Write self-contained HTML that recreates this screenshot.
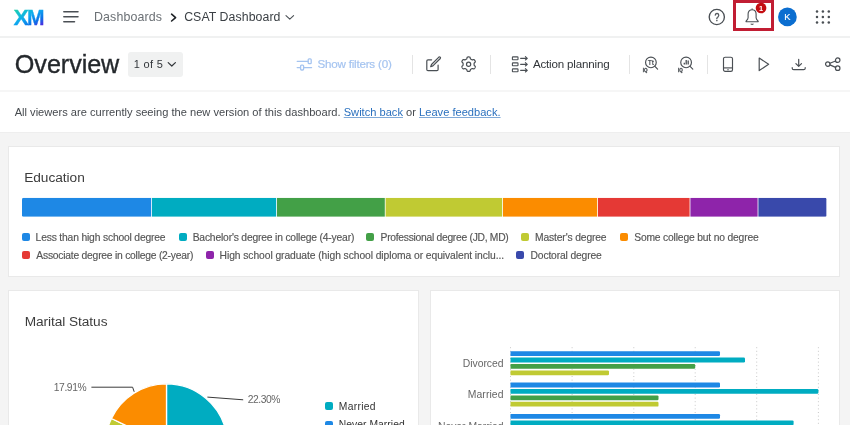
<!DOCTYPE html>
<html lang="en">
<head>
<meta charset="utf-8">
<title>CSAT Dashboard</title>
<style>
*{box-sizing:border-box;margin:0;padding:0}
html,body{width:850px;height:425px;overflow:hidden;background:#f4f4f4}
body{font-family:"Liberation Sans",sans-serif;color:#32363a;position:relative}
.abs{position:absolute}
.t{position:absolute;white-space:nowrap;line-height:1}
header{position:absolute;left:0;top:0;width:850px;height:36px;background:#fff}
.hline{position:absolute;left:0;width:850px;height:2px;background:#ececec}
.toolbar{position:absolute;left:0;top:38px;width:850px;height:52px;background:#fff}
.notice{position:absolute;left:0;top:92px;width:850px;height:40px;background:#fff}
.card{position:absolute;background:#fff;border:1px solid #e9e9e9}
.sep{position:absolute;width:1px;background:#e4e4e4}
svg{position:absolute;overflow:visible}
.os{font-family:"Liberation Sans",sans-serif}
a{color:#2a70be;text-decoration:underline;text-decoration-color:rgba(42,112,190,.6);text-underline-offset:0.7px;text-decoration-thickness:0.9px}
.lg{position:absolute;width:8px;height:8px;border-radius:2px}
.lt{font-size:10.3px;color:#555;-webkit-text-stroke:0.15px #555}
.bl{font-size:10.4px;color:#666}
.pagebtn{position:absolute;left:128px;top:51.5px;width:55px;height:25.5px;background:#f0f1f1;border-radius:3px}
</style>
</head>
<body>

<!-- ======= top header ======= -->
<header>
  <svg id="logo" style="left:0;top:0" width="60" height="36" viewBox="0 0 60 36">
    <defs>
      <linearGradient id="xmg" gradientUnits="userSpaceOnUse" x1="14" y1="9" x2="27.65" y2="33.5">
        <stop offset="0" stop-color="#22d3a5"/>
        <stop offset="0.26" stop-color="#12bfd4"/>
        <stop offset="0.5" stop-color="#0ea6f0"/>
        <stop offset="0.76" stop-color="#0b74e8"/>
        <stop offset="1" stop-color="#4f28e0"/>
      </linearGradient>
    </defs>
    <g font-family="Liberation Sans, sans-serif" font-weight="bold" font-size="22.7" fill="url(#xmg)" stroke="url(#xmg)" stroke-width="0.3">
      <text id="lgx" x="13.6" y="24.8" textLength="15.4" lengthAdjust="spacingAndGlyphs">X</text>
      <text id="lgm" x="26.9" y="24.8" textLength="17.5" lengthAdjust="spacingAndGlyphs">M</text>
    </g>
  </svg>
  <svg id="burger" style="left:63px;top:10px" width="17" height="14" viewBox="0 0 17 14">
    <g stroke="#4a4f54" stroke-width="1.5" stroke-linecap="round">
      <line x1="0.8" y1="1.8" x2="15" y2="1.8"/>
      <line x1="0.8" y1="6.8" x2="15" y2="6.8"/>
      <line x1="0.8" y1="11.8" x2="11.5" y2="11.8"/>
    </g>
  </svg>
  <span class="t" id="bc1" style="left:94.00px;top:11.4px;font-size:12.4px;color:#6b7075;letter-spacing:0.119px">Dashboards</span>
  <svg style="left:170px;top:13px" width="8" height="10" viewBox="0 0 8 10"><polyline points="1.6,1.2 5.6,4.6 1.6,8" fill="none" stroke="#1d2125" stroke-width="1.6" stroke-linecap="round" stroke-linejoin="round"/></svg>
  <span class="t" id="bc2" style="left:184.15px;top:11.4px;font-size:12.3px;color:#3b4045;letter-spacing:0.081px">CSAT Dashboard</span>
  <svg style="left:285px;top:14px" width="10" height="7" viewBox="0 0 10 7"><polyline points="1,1.6 4.8,5.2 8.6,1.6" fill="none" stroke="#4a4f54" stroke-width="1.1" stroke-linecap="round" stroke-linejoin="round"/></svg>

  <!-- help -->
  <svg style="left:707px;top:7px" width="20" height="20" viewBox="0 0 20 20">
    <circle cx="9.8" cy="10" r="7.6" fill="none" stroke="#4a4f54" stroke-width="1.35"/>
    <text transform="translate(9.9 13.6) scale(0.86 1)" text-anchor="middle" font-family="Liberation Sans, sans-serif" font-size="10.3" fill="#4a4f54" stroke="#4a4f54" stroke-width="0.4">?</text>
  </svg>
  <!-- highlight box -->
  <div class="abs" style="left:733px;top:0;width:41px;height:30.5px;border:3px solid #c11d33"></div>
  <!-- bell -->
  <svg style="left:744px;top:8px" width="17" height="19" viewBox="-0.3 0 17 19">
    <path d="M7.8 1.7 C5.4 1.7 3.8 3.6 3.8 6.1 V9.8 C3.8 11.4 2.7 12.3 1.8 13.1 C1.5 13.4 1.7 13.8 2.1 13.8 H13.5 C13.9 13.8 14.1 13.4 13.8 13.1 C12.9 12.3 11.8 11.4 11.8 9.8 V6.1 C11.8 3.6 10.2 1.7 7.8 1.7 Z M7.8 0.9 V1.7" fill="none" stroke="#4a4f54" stroke-width="1.1" stroke-linejoin="round" stroke-linecap="round"/>
    <path d="M6.8 16.1 Q7.8 16.7 8.8 16.1" fill="none" stroke="#4a4f54" stroke-width="1.1" stroke-linecap="round"/>
  </svg>
  <svg style="left:750px;top:0" width="20" height="16" viewBox="0 0 20 16"><circle cx="11.05" cy="8" r="5.35" fill="#c40d12"/></svg>
  <span class="t" id="badge" style="left:758.9px;top:5px;font-size:7.4px;font-weight:bold;color:#fff">1</span>
  <!-- avatar -->
  <svg style="left:777px;top:6px" width="22" height="22" viewBox="0 0 22 22"><circle cx="10.4" cy="10.9" r="9.35" fill="#0b6ed0"/></svg>
  <span class="t" id="avk" style="left:784.3px;top:13px;font-size:9.3px;color:#fff;-webkit-text-stroke:0.15px #fff">K</span>
  <!-- app grid -->
  <svg style="left:814px;top:9px" width="18" height="16" viewBox="0 0 18 16">
    <g fill="#4a4f54">
      <circle cx="3" cy="2.4" r="1.25"/><circle cx="8.9" cy="2.4" r="1.25"/><circle cx="14.8" cy="2.4" r="1.25"/>
      <circle cx="3" cy="8" r="1.25"/><circle cx="8.9" cy="8" r="1.25"/><circle cx="14.8" cy="8" r="1.25"/>
      <circle cx="3" cy="13.6" r="1.25"/><circle cx="8.9" cy="13.6" r="1.25"/><circle cx="14.8" cy="13.6" r="1.25"/>
    </g>
  </svg>
</header>
<div class="hline" style="top:36px;background:#f0f1f1"></div>

<!-- ======= toolbar ======= -->
<div class="toolbar"></div>
<span class="t" id="ttl" style="left:14.85px;top:51.6px;font-size:25.2px;color:#24282c;letter-spacing:-0.072px;-webkit-text-stroke:0.35px #24282c">Overview</span>
<div class="pagebtn"></div>
<span class="t" id="pg" style="left:133.80px;top:59.2px;font-size:11px;color:#32363a;letter-spacing:0.320px">1 of 5</span>
<svg style="left:167px;top:61px" width="10" height="7" viewBox="0 0 10 7"><polyline points="1.2,1.6 4.8,5 8.4,1.6" fill="none" stroke="#32363a" stroke-width="1.2" stroke-linecap="round" stroke-linejoin="round"/></svg>

<!-- show filters -->
<svg style="left:296px;top:57px" width="18" height="15" viewBox="0 0 18 15">
  <g fill="none" stroke="#a5c4f0" stroke-width="1.3" stroke-linecap="round">
    <line x1="1.2" y1="4.3" x2="12" y2="4.3"/>
    <rect x="12.2" y="1.9" width="3" height="4.8" rx="0.9"/>
    <line x1="1.2" y1="10.6" x2="4.4" y2="10.6"/>
    <rect x="4.6" y="8.2" width="3" height="4.8" rx="0.9"/>
    <line x1="7.8" y1="10.6" x2="15.6" y2="10.6"/>
  </g>
</svg>
<span class="t" id="sf" style="left:317.45px;top:58.2px;font-size:11.6px;color:#a5c4f0;-webkit-text-stroke:0.2px #a5c4f0;letter-spacing:-0.199px">Show filters (0)</span>
<div class="sep" style="left:412px;top:54.5px;height:19px"></div>
<!-- edit -->
<svg style="left:425px;top:55px" width="19" height="18" viewBox="0 0 19 18">
  <g fill="none" stroke="#4a4f54" stroke-width="1.2" stroke-linecap="round" stroke-linejoin="round">
    <path d="M6.6 4.8 H3 C2.3 4.8 1.8 5.3 1.8 6 V14.4 C1.8 15.1 2.3 15.6 3 15.6 H11.9 C12.6 15.6 13.1 15.1 13.1 14.4 V10.2"/>
    <path d="M5.7 11.7 L6.5 9.5 L13.9 2.1 A1 1 0 0 1 15.3 3.5 L7.9 10.9 Z"/>
  </g>
</svg>
<!-- gear -->
<svg style="left:460px;top:56px" width="17" height="17" viewBox="0 0 17 17">
  <g fill="none" stroke="#4a4f54" stroke-width="1.2" stroke-linejoin="round">
    <path d="M14.10 8.20 L14.10 7.96 L14.09 7.72 L14.09 7.48 L14.13 7.23 L14.32 6.93 L14.76 6.55 L15.18 6.13 L15.31 5.76 L15.27 5.44 L15.16 5.14 L15.03 4.85 L14.88 4.57 L14.71 4.31 L14.53 4.05 L14.32 3.81 L14.07 3.61 L13.68 3.54 L13.11 3.69 L12.56 3.88 L12.21 3.90 L11.97 3.81 L11.76 3.69 L11.56 3.56 L11.35 3.44 L11.14 3.32 L10.93 3.21 L10.72 3.09 L10.52 2.93 L10.36 2.62 L10.25 2.04 L10.09 1.47 L9.84 1.17 L9.54 1.05 L9.23 0.99 L8.92 0.96 L8.60 0.95 L8.28 0.96 L7.97 0.99 L7.66 1.05 L7.36 1.17 L7.11 1.47 L6.95 2.04 L6.84 2.62 L6.68 2.93 L6.48 3.09 L6.27 3.21 L6.06 3.32 L5.85 3.44 L5.64 3.56 L5.44 3.69 L5.23 3.81 L4.99 3.90 L4.64 3.88 L4.09 3.69 L3.52 3.54 L3.13 3.61 L2.88 3.81 L2.67 4.05 L2.49 4.31 L2.32 4.57 L2.17 4.85 L2.04 5.14 L1.93 5.44 L1.89 5.76 L2.02 6.13 L2.44 6.55 L2.88 6.93 L3.07 7.23 L3.11 7.48 L3.11 7.72 L3.10 7.96 L3.10 8.20 L3.10 8.44 L3.11 8.68 L3.11 8.92 L3.07 9.17 L2.88 9.47 L2.44 9.85 L2.02 10.27 L1.89 10.64 L1.93 10.96 L2.04 11.26 L2.17 11.55 L2.32 11.82 L2.49 12.09 L2.67 12.35 L2.88 12.59 L3.13 12.79 L3.52 12.86 L4.09 12.71 L4.64 12.52 L4.99 12.50 L5.23 12.59 L5.44 12.71 L5.64 12.84 L5.85 12.96 L6.06 13.08 L6.27 13.19 L6.48 13.31 L6.68 13.47 L6.84 13.78 L6.95 14.36 L7.11 14.93 L7.36 15.23 L7.66 15.35 L7.97 15.41 L8.28 15.44 L8.60 15.45 L8.92 15.44 L9.23 15.41 L9.54 15.35 L9.84 15.23 L10.09 14.93 L10.25 14.36 L10.36 13.78 L10.52 13.47 L10.72 13.31 L10.93 13.19 L11.14 13.08 L11.35 12.96 L11.56 12.84 L11.76 12.71 L11.97 12.59 L12.21 12.50 L12.56 12.52 L13.11 12.71 L13.68 12.86 L14.07 12.79 L14.32 12.59 L14.53 12.35 L14.71 12.09 L14.88 11.82 L15.03 11.55 L15.16 11.26 L15.27 10.96 L15.31 10.64 L15.18 10.27 L14.76 9.85 L14.32 9.47 L14.13 9.17 L14.09 8.92 L14.09 8.68 L14.10 8.44 Z"/>
    <circle cx="8.6" cy="8.2" r="2.1"/>
  </g>
</svg>
<div class="sep" style="left:489.6px;top:54.5px;height:19px"></div>
<!-- action planning -->
<svg style="left:511px;top:55px" width="19" height="18" viewBox="0 -0.3 19 18">
  <g fill="none" stroke="#4a4f54" stroke-width="1.1" stroke-linecap="round" stroke-linejoin="round">
    <rect x="1.4" y="1.6" width="5.6" height="2.9" rx="0.6"/>
    <rect x="1.4" y="7.6" width="5.6" height="2.9" rx="0.6"/>
    <rect x="1.4" y="13.6" width="5.6" height="2.9" rx="0.6"/>
    <path d="M9.6 3.05 H16.2 M14.4 1.4 L16.3 3.05 L14.4 4.7"/>
    <path d="M9.6 9.05 H16.2 M14.4 7.4 L16.3 9.05 L14.4 10.7"/>
    <path d="M9.6 15.05 H16.2 M14.4 13.4 L16.3 15.05 L14.4 16.7"/>
  </g>
</svg>
<span class="t" id="ap" style="left:532.90px;top:58.2px;font-size:11.6px;color:#32363a;letter-spacing:-0.184px">Action planning</span>
<div class="sep" style="left:629px;top:54.5px;height:19px"></div>
<!-- iQ text -->
<svg style="left:641px;top:54px" width="20" height="19" viewBox="0 -0.4 20 19">
  <g fill="none" stroke="#4a4f54" stroke-width="1.15" stroke-linecap="round">
    <circle cx="9.9" cy="8" r="5.35"/>
    <line x1="13.9" y1="12" x2="16.6" y2="14.7"/>
  </g>
  <text x="9.9" y="10.3" text-anchor="middle" font-family="Liberation Sans, sans-serif" font-size="6.8" font-weight="bold" fill="#4a4f54">Tt</text>
  <text x="1.7" y="17.3" font-family="Liberation Sans, sans-serif" font-size="4.5" font-weight="bold" fill="#4a4f54" stroke="#4a4f54" stroke-width="0.3">iQ</text>
</svg>
<!-- iQ stats -->
<svg style="left:676px;top:54px" width="20" height="19" viewBox="0 -0.4 20 19">
  <g fill="none" stroke="#4a4f54" stroke-width="1.15" stroke-linecap="round">
    <circle cx="10.1" cy="8" r="5.35"/>
    <line x1="14.1" y1="12" x2="16.8" y2="14.7"/>
  </g>
  <g stroke="#4a4f54" stroke-width="1.3" stroke-linecap="butt">
    <line x1="8.3" y1="8.3" x2="8.3" y2="10"/>
    <line x1="10.2" y1="5.6" x2="10.2" y2="10"/>
    <line x1="12.2" y1="6.1" x2="12.2" y2="10"/>
  </g>
  <text x="2" y="17.3" font-family="Liberation Sans, sans-serif" font-size="4.5" font-weight="bold" fill="#4a4f54" stroke="#4a4f54" stroke-width="0.3">iQ</text>
</svg>
<div class="sep" style="left:706.5px;top:54.5px;height:19px"></div>
<!-- phone -->
<svg style="left:722px;top:56px" width="12" height="17" viewBox="0 0 12 17">
  <g fill="none" stroke="#4a4f54" stroke-width="1.15" stroke-linejoin="round">
    <rect x="1.5" y="1.2" width="9" height="14.2" rx="1.6"/>
    <line x1="1.5" y1="11.9" x2="10.5" y2="11.9"/>
  </g>
  <circle cx="6" cy="13.7" r="0.7" fill="#4a4f54"/>
</svg>
<!-- play -->
<svg style="left:757px;top:56px" width="14" height="17" viewBox="0 0 14 17">
  <path d="M2.2 2 L11.6 8.3 L2.2 14.6 Z" fill="none" stroke="#4a4f54" stroke-width="1.2" stroke-linejoin="round"/>
</svg>
<!-- download -->
<svg style="left:790px;top:56px" width="18" height="16" viewBox="0 0 18 16">
  <g fill="none" stroke="#4a4f54" stroke-width="1.2" stroke-linecap="round" stroke-linejoin="round">
    <path d="M8.7 3.3 V10.2 M5.9 7.6 L8.7 10.4 L11.5 7.6"/>
    <path d="M2.2 11.7 V12.2 C2.2 13.1 2.9 13.7 3.8 13.7 H13.6 C14.5 13.7 15.2 13.1 15.2 12.2 V11.7"/>
  </g>
</svg>
<!-- share -->
<svg style="left:824px;top:56px" width="18" height="17" viewBox="0 0 18 17">
  <g fill="none" stroke="#4a4f54" stroke-width="1.2" stroke-linecap="round">
    <circle cx="3.8" cy="8.1" r="2.25"/>
    <circle cx="13.7" cy="4.2" r="2.25"/>
    <circle cx="13.7" cy="12.2" r="2.25"/>
    <line x1="5.9" y1="7.3" x2="11.6" y2="5"/>
    <line x1="5.9" y1="8.9" x2="11.6" y2="11.4"/>
  </g>
</svg>

<div class="hline" style="top:90px;background:#f6f6f6"></div>
<div class="hline" style="top:132px;height:1px;background:#eeeeee"></div>

<!-- ======= notice ======= -->
<div class="notice"></div>
<span class="t" id="note" style="left:14.65px;top:107.1px;font-size:11.1px;color:#45494e;letter-spacing:0.006px">All viewers are currently seeing the new version of this dashboard. <a>Switch back</a> or <a>Leave feedback.</a></span>

<!-- ======= Education card ======= -->
<div class="card" style="left:8px;top:146px;width:832px;height:131px"></div>
<span class="t os" id="edu" style="left:24.20px;top:171px;font-size:13.7px;color:#3c3c3c;letter-spacing:-0.035px">Education</span>


<svg style="left:0;top:0" width="850" height="425" viewBox="0 0 850 425" id="edubar">
  <clipPath id="educlip"><rect x="22" y="197.8" width="804.6" height="19" rx="1.5"/></clipPath>
  <g clip-path="url(#educlip)">
    <rect x="22" y="197.8" width="129.2" height="19" fill="#1e88e5"/>
    <rect x="152" y="197.8" width="124.2" height="19" fill="#00acc1"/>
    <rect x="277" y="197.8" width="107.8" height="19" fill="#43a047"/>
    <rect x="385.6" y="197.8" width="116.6" height="19" fill="#c0ca33"/>
    <rect x="503" y="197.8" width="94.2" height="19" fill="#fb8c00"/>
    <rect x="598" y="197.8" width="91.6" height="19" fill="#e53935"/>
    <rect x="690.4" y="197.8" width="67.2" height="19" fill="#8e24aa"/>
    <rect x="758.4" y="197.8" width="68.2" height="19" fill="#3949ab"/>
  </g>
</svg>
<i class="lg" style="left:21.8px;top:233.2px;background:#1e88e5"></i>
<span class="t os lt" id="l1" style="left:35.60px;top:233.2px;letter-spacing:-0.168px">Less than high school degree</span>
<i class="lg" style="left:178.8px;top:233.2px;background:#00acc1"></i>
<span class="t os lt" id="l2" style="left:192.65px;top:233.2px;letter-spacing:-0.174px">Bachelor's degree in college (4-year)</span>
<i class="lg" style="left:366.4px;top:233.2px;background:#43a047"></i>
<span class="t os lt" id="l3" style="left:380.60px;top:233.2px;letter-spacing:-0.277px">Professional degree (JD, MD)</span>
<i class="lg" style="left:521px;top:233.2px;background:#c0ca33"></i>
<span class="t os lt" id="l4" style="left:535.00px;top:233.2px;letter-spacing:-0.138px">Master's degree</span>
<i class="lg" style="left:619.6px;top:233.2px;background:#fb8c00"></i>
<span class="t os lt" id="l5" style="left:634.20px;top:233.2px;letter-spacing:-0.172px">Some college but no degree</span>
<i class="lg" style="left:21.8px;top:251.3px;background:#e53935"></i>
<span class="t os lt" id="l6" style="left:36.35px;top:251.3px;letter-spacing:-0.223px">Associate degree in college (2-year)</span>
<i class="lg" style="left:205.6px;top:251.3px;background:#8e24aa"></i>
<span class="t os lt" id="l7" style="left:219.60px;top:251.3px;letter-spacing:-0.072px">High school graduate (high school diploma or equivalent inclu...</span>
<i class="lg" style="left:516px;top:251.3px;background:#3949ab"></i>
<span class="t os lt" id="l8" style="left:530.50px;top:251.3px;letter-spacing:-0.143px">Doctoral degree</span>

<!-- ======= Marital card ======= -->
<div class="card" style="left:8px;top:290px;width:411px;height:150px"></div>
<span class="t os" id="mar" style="left:24.70px;top:314.5px;font-size:13.7px;color:#3c3c3c;letter-spacing:-0.067px">Marital Status</span>


<svg style="left:0;top:0" width="850" height="425" viewBox="0 0 850 425" id="pie">
  <g stroke="#fff" stroke-width="1.3" stroke-linejoin="round">
    <path d="M166.5 444.8 L166.50 383.80 A61.0 61.0 0 0 1 226.62 434.50 Z" fill="#00acc1"/>
    <path d="M166.5 444.8 L226.62 434.50 A61.0 61.0 0 0 1 185.35 502.81 Z" fill="#1e88e5"/>
    <path d="M166.5 444.8 L185.35 502.81 A61.0 61.0 0 0 1 115.00 477.49 Z" fill="#43a047"/>
    <path d="M166.5 444.8 L115.00 477.49 A61.0 61.0 0 0 1 111.45 418.52 Z" fill="#c0ca33"/>
    <path d="M166.5 444.8 L111.45 418.52 A61.0 61.0 0 0 1 166.50 383.80 Z" fill="#fb8c00"/>
  </g>
  <polyline points="91.4,387.2 132.6,387.2 134.2,391.8" fill="none" stroke="#3a3a3a" stroke-width="1"/>
  <line x1="207.4" y1="397.1" x2="243.2" y2="399.8" stroke="#3a3a3a" stroke-width="1"/>
</svg>
<span class="t os" id="p1" style="left:53.80px;top:382.7px;font-size:10.3px;color:#666;letter-spacing:-0.420px">17.91%</span>
<span class="t os" id="p2" style="left:247.85px;top:394.7px;font-size:10.3px;color:#666;letter-spacing:-0.480px">22.30%</span>
<i class="lg" style="left:325.4px;top:402.4px;background:#00acc1"></i>
<span class="t os" id="m1" style="left:338.85px;top:401.8px;font-size:10.3px;color:#333;letter-spacing:0.306px">Married</span>
<i class="lg" style="left:325.4px;top:420.6px;background:#1e88e5"></i>
<span class="t os" id="m2" style="left:338.85px;top:420.0px;font-size:10.3px;color:#333;letter-spacing:0.048px">Never Married</span>

<!-- ======= Bar card ======= -->
<div class="card" style="left:430px;top:290px;width:410px;height:150px"></div>


<svg style="left:0;top:0" width="850" height="425" viewBox="0 0 850 425" id="bars">
  <g stroke="#c9c9c9" stroke-width="1" stroke-dasharray="1 2.6"><line x1="510.5" y1="347.2" x2="510.5" y2="425"/><line x1="572.1" y1="347.2" x2="572.1" y2="425"/><line x1="633.8" y1="347.2" x2="633.8" y2="425"/><line x1="695.2" y1="347.2" x2="695.2" y2="425"/><line x1="756.7" y1="347.2" x2="756.7" y2="425"/><line x1="818.4" y1="347.2" x2="818.4" y2="425"/></g>
  <path d="M510.5 351.2 H718.8 Q720.0 351.2 720.0 352.4 V354.8 Q720.0 356.0 718.8 356.0 H510.5 Z" fill="#1e88e5"/><path d="M510.5 357.6 H743.8 Q745.0 357.6 745.0 358.8 V361.2 Q745.0 362.4 743.8 362.4 H510.5 Z" fill="#00acc1"/><path d="M510.5 364.0 H694.0 Q695.2 364.0 695.2 365.2 V367.6 Q695.2 368.8 694.0 368.8 H510.5 Z" fill="#43a047"/><path d="M510.5 370.4 H607.8 Q609.0 370.4 609.0 371.6 V374.0 Q609.0 375.2 607.8 375.2 H510.5 Z" fill="#c0ca33"/><path d="M510.5 382.6 H718.8 Q720.0 382.6 720.0 383.8 V386.2 Q720.0 387.4 718.8 387.4 H510.5 Z" fill="#1e88e5"/><path d="M510.5 389.0 H817.2 Q818.4 389.0 818.4 390.2 V392.6 Q818.4 393.8 817.2 393.8 H510.5 Z" fill="#00acc1"/><path d="M510.5 395.4 H657.3 Q658.5 395.4 658.5 396.6 V399.0 Q658.5 400.2 657.3 400.2 H510.5 Z" fill="#43a047"/><path d="M510.5 401.8 H657.3 Q658.5 401.8 658.5 403.0 V405.4 Q658.5 406.6 657.3 406.6 H510.5 Z" fill="#c0ca33"/><path d="M510.5 414.0 H718.8 Q720.0 414.0 720.0 415.2 V417.6 Q720.0 418.8 718.8 418.8 H510.5 Z" fill="#1e88e5"/><path d="M510.5 420.4 H792.4 Q793.6 420.4 793.6 421.6 V424.0 Q793.6 425.2 792.4 425.2 H510.5 Z" fill="#00acc1"/><path d="M510.5 426.8 H678.8 Q680.0 426.8 680.0 428.0 V430.4 Q680.0 431.6 678.8 431.6 H510.5 Z" fill="#43a047"/><path d="M510.5 433.2 H638.8 Q640.0 433.2 640.0 434.4 V436.8 Q640.0 438.0 638.8 438.0 H510.5 Z" fill="#c0ca33"/>
</svg>
<span class="t os bl" id="b1" style="left:462.85px;top:359.0px;letter-spacing:-0.048px">Divorced</span>
<span class="t os bl" id="b2" style="left:467.75px;top:390.4px;letter-spacing:0.090px">Married</span>
<span class="t os bl" id="b3" style="left:437.95px;top:421.8px;letter-spacing:-0.021px">Never Married</span>

</body>
</html>
